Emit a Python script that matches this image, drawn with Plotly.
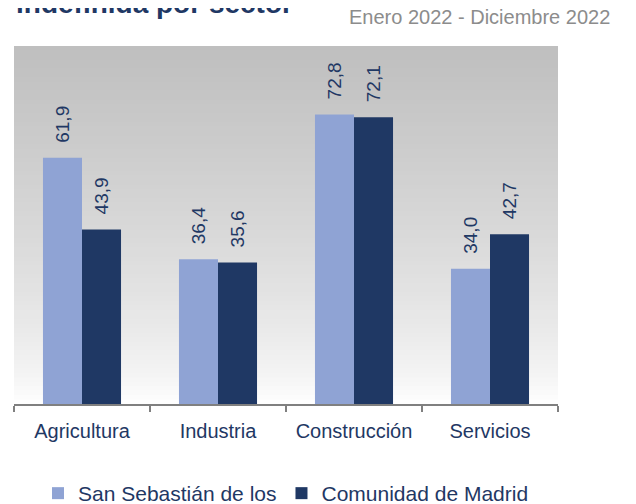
import plotly.graph_objects as go

sectores = ["Agricultura", "Industria", "Construcción", "Servicios"]
san_sebastian = [61.9, 36.4, 72.8, 34.0]
madrid = [43.9, 35.6, 72.1, 42.7]
nombres = ["San Sebastián de los", "Comunidad de Madrid"]

azul_claro = "#8FA3D4"
azul_oscuro = "#1F3864"
texto = "#1F3864"

fig = go.Figure()
fig.add_trace(go.Bar(x=sectores, y=san_sebastian, name=nombres[0],
                     marker=dict(color=azul_claro, line=dict(width=0))))
fig.add_trace(go.Bar(x=sectores, y=madrid, name=nombres[1],
                     marker=dict(color=azul_oscuro, line=dict(width=0))))

# etiquetas verticales encima de cada barra
for serie, dx in ((san_sebastian, -19.5), (madrid, 19.5)):
    for cat, v in zip(sectores, serie):
        fig.add_annotation(x=cat, y=v, xref="x", yref="y",
                           text=f"{v:.1f}".replace(".", ","),
                           textangle=-90, showarrow=False,
                           xanchor="center", yanchor="bottom",
                           xshift=dx, yshift=13,
                           font=dict(family="Liberation Sans, Arial", size=19, color=texto))

# fondo degradado del area de trazado (bandas solapadas para evitar rayas)
n = 80
for i in range(n):
    t = i / (n - 1)
    g = int(round(255 - (255 - 191) * t ** 0.7))
    fig.add_shape(type="rect", xref="x domain", yref="y domain",
                  x0=0, x1=1, y0=i / n, y1=min(1, (i + 2) / n),
                  fillcolor=f"rgb({g},{g},{g})", line=dict(width=0), layer="below")

fig.add_annotation(text="<b>indefinida por sector</b>", xref="paper", yref="paper",
                   x=0, y=1.07, xanchor="left", yanchor="bottom", showarrow=False,
                   font=dict(family="Liberation Sans, Arial", size=28, color=texto))
fig.add_annotation(text="Enero 2022 - Diciembre 2022", xref="paper", yref="paper",
                   x=1.1, y=1.08, xanchor="right", yanchor="middle", showarrow=False,
                   font=dict(family="Liberation Sans, Arial", size=20, color="#8C8C8C"))

# la pagina tiene 8px de margen en el body: se compensa en el tamaño
fig.update_layout(
    width=628, height=496,
    margin=dict(l=6, r=78, t=38, b=100, autoexpand=False),
    paper_bgcolor="white", plot_bgcolor="white",
    barmode="group", bargap=0.426, bargroupgap=0,
    font=dict(family="Liberation Sans, Arial", color=texto),
    showlegend=True,
    legend=dict(orientation="h", x=0.5, xanchor="center", y=-0.25, yanchor="middle",
                font=dict(size=21, color=texto), traceorder="normal"),
    xaxis=dict(showline=True, linecolor="#808080", linewidth=2, automargin=False,
               ticks="outside", tickson="boundaries", ticklen=6, tickwidth=2,
               tickcolor="#808080", tickfont=dict(size=20, color=texto),
               ticklabelstandoff=8, showgrid=False),
    yaxis=dict(range=[0, 90], visible=False, showgrid=False, zeroline=False),
)

fig.write_html("out.html")
